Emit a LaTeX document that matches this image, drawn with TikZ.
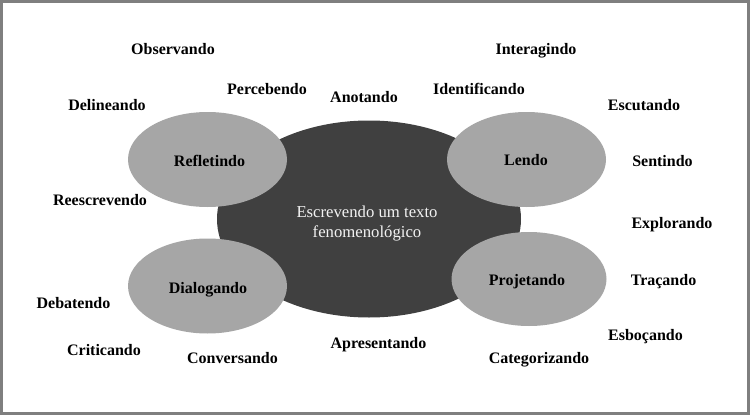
\documentclass[tikz,border=0pt]{standalone}
\usepackage{fontspec}
\setmainfont{Liberation Serif}
\usetikzlibrary{shapes.geometric}
\definecolor{darkel}{HTML}{404040}
\definecolor{lightel}{HTML}{A6A6A6}
\definecolor{framegray}{HTML}{7F7F7F}
\definecolor{centertext}{HTML}{F2F2F2}
\tikzset{
  word/.style={font=\fontsize{16}{18}\selectfont\bfseries, anchor=base, inner sep=0pt},
  bubble/.style={ellipse, fill=lightel, draw=none, minimum width=159pt, minimum height=95pt, inner sep=0pt},
  core/.style={ellipse, fill=darkel, draw=none, minimum width=304pt, minimum height=197pt, inner sep=0pt},
}
\begin{document}
\begin{tikzpicture}[x=1pt,y=-1pt]
\useasboundingbox (0,0) rectangle (750,415);
\fill[white] (0,0) rectangle (750,415);
\draw[framegray, line width=3pt] (1.5,1.5) rectangle (748.5,413.5);

\node[core] (core) at (369,219) {};
\node[font=\fontsize{16.7}{20}\selectfont, text=centertext, align=center, anchor=base] (coretext) at (367,237) {Escrevendo um texto\\fenomenológico};

\node[bubble] (refl) at (207.5,159.5) {};
\node[bubble] (lendo) at (526.5,159.5) {};
\node[bubble] (dial) at (207.5,286) {};
\node[bubble, minimum width=155pt, minimum height=94pt] (proj) at (529,279) {};

\node[word] (trefl) at (209.5,166) {Refletindo};
\node[word] (tlendo) at (526,165) {Lendo};
\node[word] (tdial) at (208,293) {Dialogando};
\node[word] (tproj) at (527,285) {Projetando};

\node[word] (w1) at (173,54) {Observando};
\node[word] (w2) at (536,54) {Interagindo};
\node[word] (w3) at (267,94) {Percebendo};
\node[word] (w4) at (364,102) {Anotando};
\node[word] (w5) at (479,94) {Identificando};
\node[word] (w6) at (107,110) {Delineando};
\node[word] (w7) at (644,110) {Escutando};
\node[word] (w8) at (662.5,166) {Sentindo};
\node[word] (w9) at (100,205) {Reescrevendo};
\node[word] (w10) at (672,228) {Explorando};
\node[word] (w11) at (663.5,285) {Traçando};
\node[word] (w12) at (645.5,340) {Esboçando};
\node[word] (w13) at (539,363) {Categorizando};
\node[word] (w14) at (73.5,308) {Debatendo};
\node[word] (w15) at (104,355) {Criticando};
\node[word] (w16) at (232.5,363) {Conversando};
\node[word] (w17) at (378.5,348) {Apresentando};
\end{tikzpicture}
\end{document}
